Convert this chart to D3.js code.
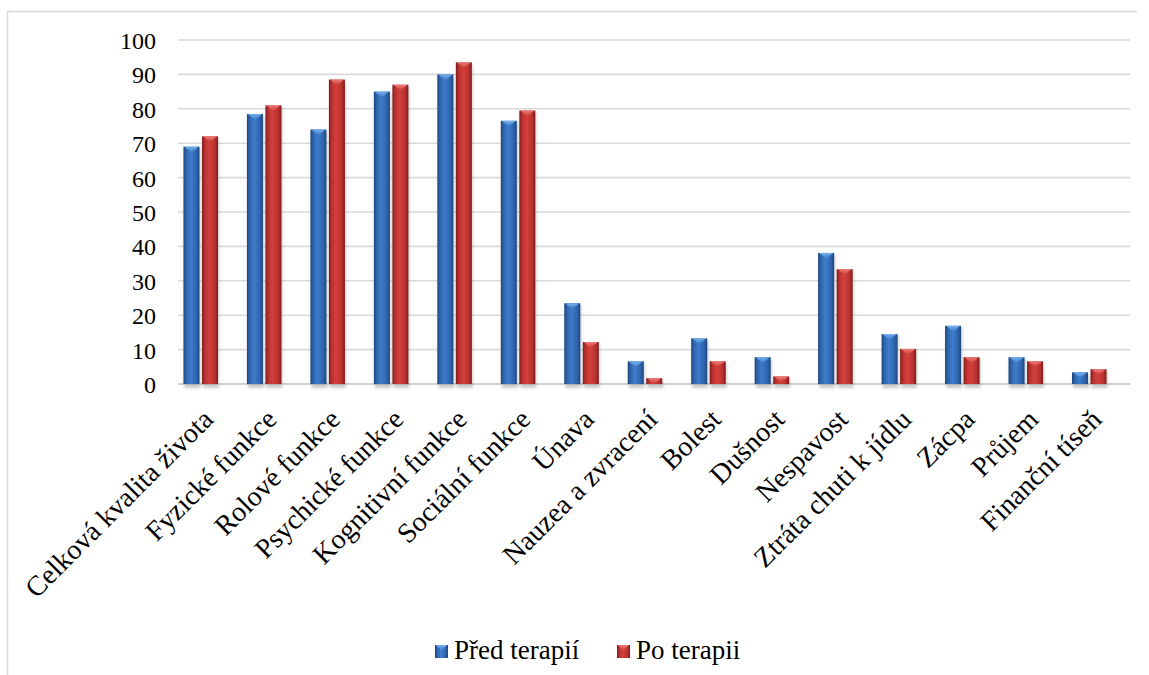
<!DOCTYPE html>
<html>
<head>
<meta charset="utf-8">
<script src="https://cdn.jsdelivr.net/npm/d3@7"></script>
<style>
  html, body { margin: 0; padding: 0; background: #ffffff; }
  svg { display: block; }
</style>
</head>
<body>
<svg id="chart" width="1149" height="675"></svg>
<script>
// Quality-of-life domains and symptom scales
const categories = [
  "Celková kvalita života", "Fyzické funkce", "Rolové funkce", "Psychické funkce",
  "Kognitivní funkce", "Sociální funkce", "Únava", "Nauzea a zvracení", "Bolest",
  "Dušnost", "Nespavost", "Ztráta chuti k jídlu", "Zácpa", "Průjem", "Finanční tíseň"
];
const seriesNames = ["Před terapií", "Po terapii"];
const beforeValues = [69, 78.5, 74, 85, 90, 76.5, 23.5, 6.6, 13.3, 7.8, 38.1, 14.5, 16.9, 7.8, 3.4];
const afterValues  = [72, 81, 88.5, 87, 93.5, 79.5, 12.2, 1.7, 6.6, 2.2, 33.4, 10.2, 7.8, 6.6, 4.3];
const yTicks = [0, 10, 20, 30, 40, 50, 60, 70, 80, 90, 100];

const FONT = '"Liberation Serif"';
const svg = d3.select("#chart");

// outer chart frame (top and left edges)
svg.append("path")
  .attr("d", "M7.5,675 V11.5 H1137")
  .attr("fill", "none").attr("stroke", "#d9d9d9").attr("stroke-width", 1.5);

const y = d3.scaleLinear().domain([0, 100]).range([384, 40]);
const x = d3.scaleBand().domain(categories).range([169, 1121])
  .paddingInner(0.456).paddingOuter(0.228);
const x1 = d3.scaleBand().domain(seriesNames).range([0, x.bandwidth()]).paddingInner(0.135);

const gridX0 = 178, gridX1 = 1130;

// defs: gradients + blur
const defs = svg.append("defs");
const palettes = {
  "Před terapií": { dark: "#1d467f", mid: "#2f65ad", light: "#3d7ccb", cap: "#74b0ee", capDark: "#3c78c4" },
  "Po terapii":   { dark: "#7e1d1c", mid: "#b93230", light: "#d4403c", cap: "#f07a76", capDark: "#c83a36" }
};
seriesNames.forEach((s, i) => {
  const p = palettes[s];
  const g = defs.append("linearGradient").attr("id", "grad" + i)
    .attr("x1", "0%").attr("x2", "100%").attr("y1", "0%").attr("y2", "0%");
  g.append("stop").attr("offset", "0%").attr("stop-color", p.dark);
  g.append("stop").attr("offset", "18%").attr("stop-color", p.mid);
  g.append("stop").attr("offset", "45%").attr("stop-color", p.light);
  g.append("stop").attr("offset", "80%").attr("stop-color", p.mid);
  g.append("stop").attr("offset", "100%").attr("stop-color", p.dark);
  const c = defs.append("linearGradient").attr("id", "cap" + i)
    .attr("x1", "0%").attr("x2", "0%").attr("y1", "0%").attr("y2", "100%");
  c.append("stop").attr("offset", "0%").attr("stop-color", p.cap);
  c.append("stop").attr("offset", "100%").attr("stop-color", p.capDark);
});
defs.append("filter").attr("id", "soft").attr("x", "-50%").attr("y", "-50%").attr("width", "200%").attr("height", "200%")
  .append("feGaussianBlur").attr("stdDeviation", 1.6);

// horizontal gridlines
svg.append("g").selectAll("line").data(yTicks).join("line")
  .attr("x1", gridX0).attr("x2", gridX1)
  .attr("y1", d => y(d)).attr("y2", d => y(d))
  .attr("stroke", d => d === 0 ? "#d0d0d0" : "#d9d9d9")
  .attr("stroke-width", d => d === 0 ? 2.2 : 1.6);

// y axis labels
const yAxis = d3.axisLeft(y).tickValues(yTicks).tickSize(0).tickPadding(0);
const yg = svg.append("g").attr("transform", "translate(156,0)").call(yAxis)
  .attr("font-family", "Liberation Serif").attr("font-size", 24);
yg.select(".domain").remove();
yg.selectAll("text").attr("font-family", "Liberation Serif").style("font-family", FONT)
  .attr("font-size", 24).attr("dy", "0.35em").attr("fill", "#000");

// bars
const rows = categories.map((c, i) => ({ cat: c, vals: [beforeValues[i], afterValues[i]] }));
const groups = svg.append("g").selectAll("g").data(rows).join("g")
  .attr("transform", d => `translate(${x(d.cat)},0)`);

const barData = d => d.vals.map((v, i) => ({ s: seriesNames[i], i, v }));

// soft shadow below each bar
groups.selectAll("rect.shadow").data(barData).join("rect").attr("class", "shadow")
  .attr("x", d => x1(d.s) + 1).attr("width", x1.bandwidth())
  .attr("y", d => y(d.v) + 2).attr("height", d => y(0) - y(d.v) + 2)
  .attr("fill", "#8a8a8a").attr("opacity", 0.45).attr("filter", "url(#soft)");

groups.selectAll("rect.bar").data(barData).join("rect").attr("class", "bar")
  .attr("x", d => x1(d.s)).attr("width", x1.bandwidth())
  .attr("y", d => y(d.v)).attr("height", d => y(0) - y(d.v))
  .attr("fill", d => `url(#grad${d.i})`);

// bevelled top of each bar
groups.selectAll("path.cap").data(barData).join("path").attr("class", "cap")
  .attr("d", d => {
    const bx = x1(d.s), bw = x1.bandwidth(), ty = y(d.v);
    const h = Math.min(6, (y(0) - ty));
    return `M${bx + 1},${ty} L${bx + bw - 1},${ty} L${bx + bw / 2},${ty + h} Z`;
  })
  .attr("fill", d => `url(#cap${d.i})`);

// category labels, rotated
svg.append("g").selectAll("text").data(categories).join("text")
  .attr("transform", c => `translate(${x(c) + x.bandwidth() / 2 + 14},421) rotate(-45)`)
  .attr("text-anchor", "end")
  .attr("font-family", "Liberation Serif").style("font-family", FONT)
  .attr("font-size", 28).attr("fill", "#000")
  .text(c => c);

// legend
const legendItems = [{ s: seriesNames[0], i: 0, x: 435 }, { s: seriesNames[1], i: 1, x: 617 }];
const lg = svg.append("g").selectAll("g").data(legendItems).join("g")
  .attr("transform", d => `translate(${d.x},645)`);
lg.append("rect").attr("width", 13).attr("height", 13).attr("fill", d => `url(#grad${d.i})`);
lg.append("path").attr("d", "M1,0 L12,0 L6.5,6 Z").attr("fill", d => `url(#cap${d.i})`);
lg.append("text").attr("x", 19).attr("y", 14)
  .attr("font-family", "Liberation Serif").style("font-family", FONT)
  .attr("font-size", 27).attr("fill", "#000").text(d => d.s);
</script>
</body>
</html>
